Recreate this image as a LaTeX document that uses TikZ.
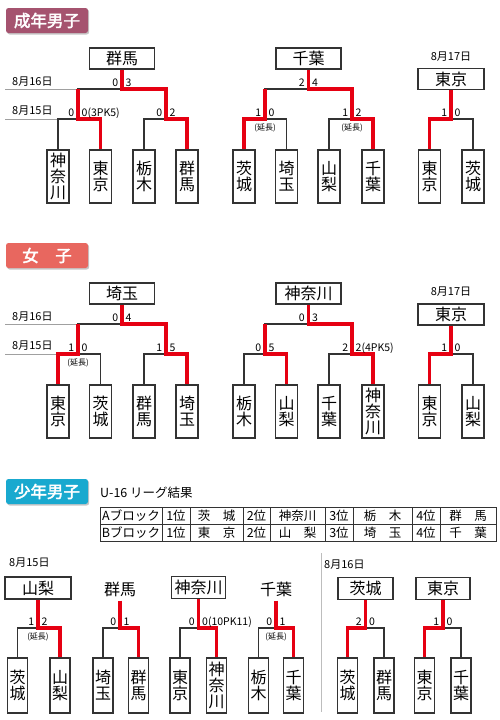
\documentclass[tikz,border=0pt]{standalone}
\usepackage{fontspec}
\setmainfont{Noto Sans CJK JP}[AutoFakeBold=2.5]
\usepackage{tikz}
\usetikzlibrary{positioning,shadows}
\definecolor{BrRed}{HTML}{E60012}
\definecolor{BrDark}{HTML}{333333}
\definecolor{BrGray}{HTML}{A0A0A0}
\definecolor{TagMen}{HTML}{A5536F}
\definecolor{TagWomen}{HTML}{E8675F}
\definecolor{TagYouth}{HTML}{19A9CF}
\tikzset{
  tagbox/.style={rounded corners=2.5pt,minimum width=82pt,minimum height=25pt,inner sep=0pt,text=white,font=\fontsize{16.5}{16.5}\selectfont\bfseries,drop shadow={shadow xshift=1.2pt,shadow yshift=-1.5pt,opacity=0.45}},
  winbox/.style={draw=BrDark,line width=1.2pt,minimum height=21pt,inner sep=0pt,fill=white,font=\fontsize{16}{16}\selectfont},
  winname/.style={winbox,draw=none,fill=none},
  teambox/.style={draw=BrDark,line width=1.2pt,minimum width=22pt,minimum height=53pt,inner sep=0pt,align=center,fill=white,font=\fontsize{16}{16}\selectfont},
  youthbox/.style={teambox,minimum width=20pt,minimum height=55pt},
  bline/.style={draw=BrDark,line width=1.1pt},
  winline/.style={draw=BrRed,line width=3.8pt,line join=miter},
  dateline/.style={draw=BrGray,line width=0.7pt},
  seprule/.style={draw=BrGray!70,line width=0.8pt},
  datelabel/.style={font=\fontsize{11}{11}\selectfont,inner sep=0pt,anchor=west},
  scoreL/.style={font=\fontsize{10.5}{10.5}\selectfont,inner sep=0pt,anchor=base east,xshift=-3.5pt,yshift=3pt},
  scoreR/.style={font=\fontsize{10.5}{10.5}\selectfont,inner sep=0pt,anchor=base west,xshift=3.5pt,yshift=3pt},
  extlabel/.style={font=\fontsize{8}{8}\selectfont,inner sep=0pt,anchor=north,yshift=-5pt},
  cell/.style={draw=BrDark,line width=0.9pt,minimum height=17pt,inner sep=0pt,outer sep=0pt,font=\fontsize{12.5}{12.5}\selectfont}
}
\newcommand{\mscore}[3]{%
  \node[scoreL] (#1l) at (#1) {#2};
  \node[scoreR] (#1r) at (#1) {#3};}

\begin{document}
\begin{tikzpicture}[x=1pt,y=-1pt]
\useasboundingbox (0,0) rectangle (500,720);
% ---------- 成年男子 ----------
\node[tagbox,fill=TagMen] (sTag) at (47,20.5) {成年男子};
\node[winbox,minimum width=65pt] (sT1) at (122,58.5) {群馬};
\node[winbox,minimum width=65pt] (sT2) at (308.5,58.5) {千葉};
\node[datelabel,anchor=center] (sD3) at (451,57) {8月17日};
\node[winbox,minimum width=66pt] (sT3) at (451,79) {東京};
\node[teambox] (sb1) at (58,176.5) {神\\奈\\川};
\node[teambox] (sb2) at (100.5,176.5) {東\\京};
\node[teambox] (sb3) at (144,176.5) {栃\\木};
\node[teambox] (sb4) at (187,176.5) {群\\馬};
\node[teambox] (sb5) at (244,176.5) {茨\\城};
\node[teambox] (sb6) at (286.5,176.5) {埼\\玉};
\node[teambox] (sb7) at (329,176.5) {山\\梨};
\node[teambox] (sb8) at (373,176.5) {千\\葉};
\node[teambox] (sb9) at (429.5,176.5) {東\\京};
\node[teambox] (sb10) at (473,176.5) {茨\\城};
\coordinate (sm0) at (122,89);
\coordinate (sm1) at (78,119);
\coordinate (sm2) at (166,119);
\coordinate (sm3) at (308.5,89);
\coordinate (sm4) at (265,119);
\coordinate (sm5) at (352,119);
\coordinate (sm6) at (451,119);
\coordinate (sd1) at (5,89);
\coordinate (sd2) at (5,119);
\node[datelabel] (sD1) at (12,82) {8月16日};
\node[datelabel] (sD2) at (12,111) {8月15日};
\draw[dateline] (sd1) -- (sm1 |- sm0);
\draw[dateline] (sd2) -- (sb1.north |- sm1);
\draw[bline] (sm1) |- (sm0) -| (sm2);
\draw[bline] (sb1.north) |- (sm1) -| (sb2.north);
\draw[bline] (sb3.north) |- (sm2) -| (sb4.north);
\draw[bline] (sm4) |- (sm3) -| (sm5);
\draw[bline] (sb5.north) |- (sm4) -| (sb6.north);
\draw[bline] (sb7.north) |- (sm5) -| (sb8.north);
\draw[bline] (sb9.north) |- (sm6) -| (sb10.north);
\draw[winline] (sT1.south) -- (sm0) -| (sm2) -| (sb4.north);
\draw[winline] (sm1 |- sm0) -- (sm1) -| (sb2.north);
\draw[winline] (sT2.south) -- (sm3) -| (sm5) -| (sb8.north);
\draw[winline] (sm4 |- sm3) -- (sm4) -| (sb5.north);
\draw[winline] (sT3.south) -- (sm6) -| (sb9.north);
\mscore{sm0}{0}{3}
\mscore{sm1}{0}{0(3PK5)}
\mscore{sm2}{0}{2}
\mscore{sm3}{2}{4}
\mscore{sm4}{1}{0}
\mscore{sm5}{1}{2}
\mscore{sm6}{1}{0}
\node[extlabel] (sx1) at (sm4) {(延長)};
\node[extlabel] (sx2) at (sm5) {(延長)};
% ---------- 女子 ----------
\node[tagbox,fill=TagWomen] (jTag) at (47,255.5) {女　子};
\node[winbox,minimum width=65pt] (jT1) at (122,293.5) {埼玉};
\node[winbox,minimum width=65pt] (jT2) at (308.5,293.5) {神奈川};
\node[datelabel,anchor=center] (jD3) at (451,292) {8月17日};
\node[winbox,minimum width=66pt] (jT3) at (451,314.5) {東京};
\node[teambox] (jb1) at (58,411.5) {東\\京};
\node[teambox] (jb2) at (100.5,411.5) {茨\\城};
\node[teambox] (jb3) at (144,411.5) {群\\馬};
\node[teambox] (jb4) at (187,411.5) {埼\\玉};
\node[teambox] (jb5) at (244,411.5) {栃\\木};
\node[teambox] (jb6) at (286.5,411.5) {山\\梨};
\node[teambox] (jb7) at (329,411.5) {千\\葉};
\node[teambox] (jb8) at (373,411.5) {神\\奈\\川};
\node[teambox] (jb9) at (429.5,411.5) {東\\京};
\node[teambox] (jb10) at (473,411.5) {山\\梨};
\coordinate (jm0) at (122,324);
\coordinate (jm1) at (78,354);
\coordinate (jm2) at (166,354);
\coordinate (jm3) at (308.5,324);
\coordinate (jm4) at (265,354);
\coordinate (jm5) at (352,354);
\coordinate (jm6) at (451,354);
\coordinate (jd1) at (5,324);
\coordinate (jd2) at (5,354);
\node[datelabel] (jD1) at (12,317) {8月16日};
\node[datelabel] (jD2) at (12,346) {8月15日};
\draw[dateline] (jd1) -- (jm1 |- jm0);
\draw[dateline] (jd2) -- (jb1.north |- jm1);
\draw[bline] (jm1) |- (jm0) -| (jm2);
\draw[bline] (jb1.north) |- (jm1) -| (jb2.north);
\draw[bline] (jb3.north) |- (jm2) -| (jb4.north);
\draw[bline] (jm4) |- (jm3) -| (jm5);
\draw[bline] (jb5.north) |- (jm4) -| (jb6.north);
\draw[bline] (jb7.north) |- (jm5) -| (jb8.north);
\draw[bline] (jb9.north) |- (jm6) -| (jb10.north);
\draw[winline] (jT1.south) -- (jm0) -| (jm2) -| (jb4.north);
\draw[winline] (jm1 |- jm0) -- (jm1) -| (jb1.north);
\draw[winline] (jT2.south) -- (jm3) -| (jm5) -| (jb8.north);
\draw[winline] (jm4 |- jm3) -- (jm4) -| (jb6.north);
\draw[winline] (jT3.south) -- (jm6) -| (jb9.north);
\mscore{jm0}{0}{4}
\mscore{jm1}{1}{0}
\mscore{jm2}{1}{5}
\mscore{jm3}{0}{3}
\mscore{jm4}{0}{5}
\mscore{jm5}{2}{2(4PK5)}
\mscore{jm6}{1}{0}
\node[extlabel] (jx1) at (jm1) {(延長)};
% ---------- 少年男子 ----------
\node[tagbox,fill=TagYouth] (yTag) at (47,491.5) {少年男子};
\node[datelabel,font=\fontsize{12.5}{12.5}\selectfont] (yLg) at (100,493) {U-16 リーグ結果};
\node[cell,minimum width=62pt] (tA1) at (131,515.5) {Aブロック};
\node[cell,minimum width=28pt,right=0pt of tA1] (tA2) {1位};
\node[cell,minimum width=53pt,right=0pt of tA2] (tA3) {茨　城};
\node[cell,minimum width=27pt,right=0pt of tA3] (tA4) {2位};
\node[cell,minimum width=55pt,right=0pt of tA4] (tA5) {神奈川};
\node[cell,minimum width=28pt,right=0pt of tA5] (tA6) {3位};
\node[cell,minimum width=59pt,right=0pt of tA6] (tA7) {栃　木};
\node[cell,minimum width=28pt,right=0pt of tA7] (tA8) {4位};
\node[cell,minimum width=56pt,right=0pt of tA8] (tA9) {群　馬};
\node[cell,minimum width=62pt,below=0pt of tA1] (tB1) {Bブロック};
\node[cell,minimum width=28pt,below=0pt of tA2] (tB2) {1位};
\node[cell,minimum width=53pt,below=0pt of tA3] (tB3) {東　京};
\node[cell,minimum width=27pt,below=0pt of tA4] (tB4) {2位};
\node[cell,minimum width=55pt,below=0pt of tA5] (tB5) {山　梨};
\node[cell,minimum width=28pt,below=0pt of tA6] (tB6) {3位};
\node[cell,minimum width=59pt,below=0pt of tA7] (tB7) {埼　玉};
\node[cell,minimum width=28pt,below=0pt of tA8] (tB8) {4位};
\node[cell,minimum width=56pt,below=0pt of tA9] (tB9) {千　葉};
\node[datelabel] (yD1) at (9,563) {8月15日};
\node[datelabel] (yD2) at (324,565) {8月16日};
\coordinate (ys1) at (321,553);
\coordinate (ys2) at (321,712);
\draw[seprule] (ys1) -- (ys2);
\node[winbox,minimum width=66pt,minimum height=22pt] (yT1) at (38,588) {山梨};
\node[winname,minimum height=22pt] (yT2) at (120,589) {群馬};
\node[winbox,minimum width=54pt,minimum height=22pt] (yT3) at (198.5,587.5) {神奈川};
\node[winname,minimum height=22pt] (yT4) at (276,589) {千葉};
\node[winbox,minimum width=55pt,minimum height=22pt] (yT5) at (365.5,588.5) {茨城};
\node[winbox,minimum width=54pt,minimum height=22pt] (yT6) at (443,588.5) {東京};
\node[youthbox] (yb1) at (17.5,685.5) {茨\\城};
\node[youthbox] (yb2) at (60,685.5) {山\\梨};
\node[youthbox] (yb3) at (103,685.5) {埼\\玉};
\node[youthbox] (yb4) at (138.5,685.5) {群\\馬};
\node[youthbox] (yb5) at (180,685.5) {東\\京};
\node[youthbox] (yb6) at (216.5,685.5) {神\\奈\\川};
\node[youthbox] (yb7) at (258.5,685.5) {栃\\木};
\node[youthbox] (yb8) at (293.5,685.5) {千\\葉};
\node[youthbox] (yb9) at (347.5,685.5) {茨\\城};
\node[youthbox] (yb10) at (384,685.5) {群\\馬};
\node[youthbox] (yb11) at (424.5,685.5) {東\\京};
\node[youthbox] (yb12) at (461,685.5) {千\\葉};
\coordinate (ym1) at (38,628);
\coordinate (ym2) at (120,628);
\coordinate (ym3) at (198.5,628);
\coordinate (ym4) at (276,628);
\coordinate (ym5) at (365.5,628);
\coordinate (ym6) at (443,628);
\draw[bline] (yb1.north) |- (ym1) -| (yb2.north);
\draw[bline] (yb3.north) |- (ym2) -| (yb4.north);
\draw[bline] (yb5.north) |- (ym3) -| (yb6.north);
\draw[bline] (yb7.north) |- (ym4) -| (yb8.north);
\draw[bline] (yb9.north) |- (ym5) -| (yb10.north);
\draw[bline] (yb11.north) |- (ym6) -| (yb12.north);
\draw[winline] (yT1.south) -- (ym1) -| (yb2.north);
\draw[winline] (yT2.south) -- (ym2) -| (yb4.north);
\draw[winline] (yT3.south) -- (ym3) -| (yb6.north);
\draw[winline] (yT4.south) -- (ym4) -| (yb8.north);
\draw[winline] (yT5.south) -- (ym5) -| (yb9.north);
\draw[winline] (yT6.south) -- (ym6) -| (yb11.north);
\mscore{ym1}{1}{2}
\mscore{ym2}{0}{1}
\mscore{ym3}{0}{0(10PK11)}
\mscore{ym4}{0}{1}
\mscore{ym5}{2}{0}
\mscore{ym6}{1}{0}
\node[extlabel] (yx1) at (ym1) {(延長)};
\node[extlabel] (yx2) at (ym4) {(延長)};
\end{tikzpicture}
\end{document}
